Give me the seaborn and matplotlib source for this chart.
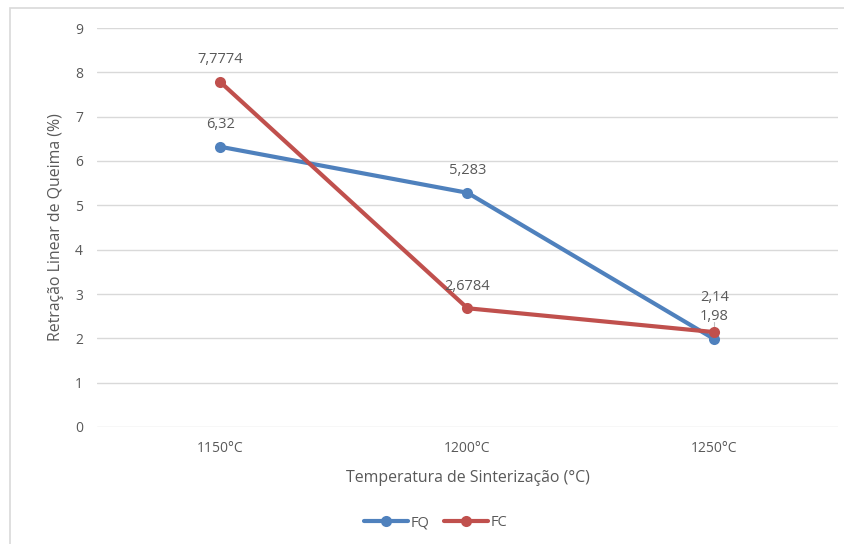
import pandas as pd
import seaborn as sns
import matplotlib.pyplot as plt
from matplotlib.patches import Rectangle

CATEGORIAS = ['1150°C', '1200°C', '1250°C']
FQ = [6.32, 5.283, 1.98]
FC = [7.7774, 2.6784, 2.14]
ROTULOS_FQ = ['6,32', '5,283', '1,98']
ROTULOS_FC = ['7,7774', '2,6784', '2,14']

AZUL = '#4F81BD'
VERMELHO = '#C0504D'
CINZA = '#595959'

sns.set_style('white')
plt.rcParams['font.family'] = ['Open Sans', 'DejaVu Sans']

df = pd.DataFrame({
    'x': list(range(len(CATEGORIAS))) * 2,
    'valor': FQ + FC,
    'serie': ['FQ'] * len(FQ) + ['FC'] * len(FC),
})

fig = plt.figure(figsize=(8.45, 5.44), dpi=100)
ax = fig.add_axes([97 / 845, 1 - 427 / 544, (838 - 97) / 845, (427 - 28) / 544])

# moldura do grafico (so aparecem os lados esquerdo e superior)
fig.patches.append(Rectangle((10 / 845, -0.05), 1.0, 1 - 8 / 544 + 0.05,
                             transform=fig.transFigure, fill=False,
                             edgecolor='#d9d9d9', linewidth=1.2))

sns.lineplot(data=df, x='x', y='valor', hue='serie', hue_order=['FQ', 'FC'],
             palette=[AZUL, VERMELHO], marker='o', markersize=8,
             markeredgewidth=0, linewidth=3, ax=ax, legend=True)

# deslocamento vertical (pt) dos rotulos; 2,14 sobe para nao cobrir 1,98
desl_fq = [16, 16, 16]
desl_fc = [16, 16, 25]
for i, (v, t) in enumerate(zip(FQ, ROTULOS_FQ)):
    ax.annotate(t, (i, v), xytext=(0, desl_fq[i]), textcoords='offset points',
                ha='center', va='center', fontsize=10.5, color=CINZA)
for i, (v, t) in enumerate(zip(FC, ROTULOS_FC)):
    ax.annotate(t, (i, v), xytext=(0, desl_fc[i]), textcoords='offset points',
                ha='center', va='center', fontsize=10.5, color=CINZA)
# linha guia do rotulo 1,98
ax.plot([2, 2], [2.14, 2.36], color='#bfbfbf', linewidth=0.8, zorder=1)

ax.set_xlim(-0.5, 2.5)
ax.set_ylim(0, 9)
ax.set_xticks(range(len(CATEGORIAS)))
ax.set_xticklabels(CATEGORIAS)
ax.set_yticks(range(10))
ax.grid(axis='y', color='#d9d9d9', linewidth=1)
ax.set_axisbelow(True)
for s in ax.spines.values():
    s.set_visible(False)
ax.tick_params(axis='both', length=0, labelsize=10, labelcolor=CINZA, pad=10)

ax.set_xlabel('Temperatura de Sinterização (°C)', fontsize=11.4, color=CINZA, labelpad=10)
ax.set_ylabel('Retração Linear de Queima (%)', fontsize=11.4, color=CINZA, labelpad=8)

leg = ax.legend(loc='center', bbox_to_anchor=(436 / 845, (544 - 523) / 544),
                bbox_transform=fig.transFigure, ncol=2, frameon=False,
                fontsize=10.5, handlelength=3, columnspacing=1.0,
                handletextpad=0.2, labelcolor=CINZA)
for h in leg.legend_handles:
    h.set_linewidth(3)
    h.set_markersize(8)

plt.savefig('out.png', dpi=100)
